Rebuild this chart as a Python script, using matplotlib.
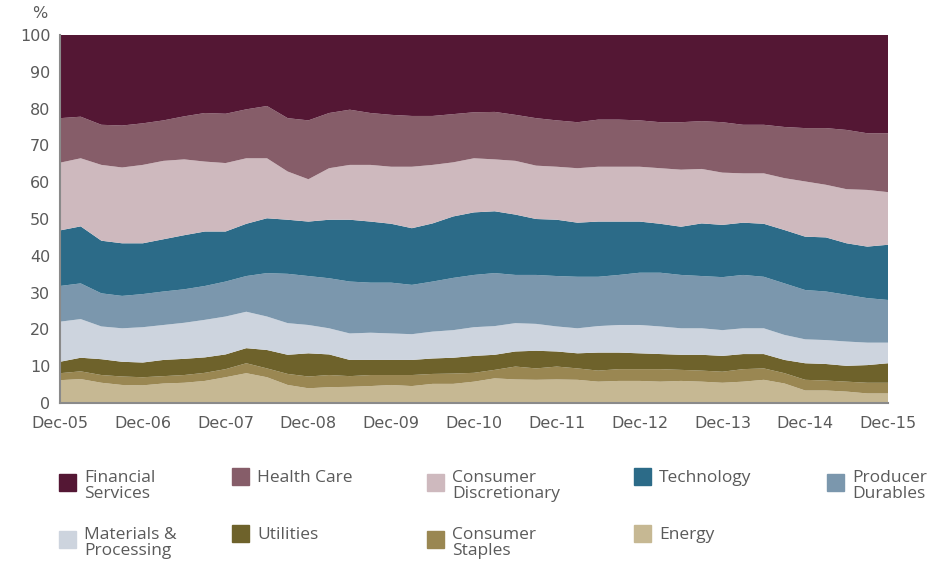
import numpy as np
import matplotlib
matplotlib.use("Agg")
import matplotlib.pyplot as plt
from matplotlib.patches import Rectangle

plt.rcParams['font.family'] = ['Open Sans', 'DejaVu Sans']

# Quarterly sector weights (%), Dec-05 .. Dec-15
months = np.arange(0, 121, 3)
year_labels = ["Dec-05", "Dec-06", "Dec-07", "Dec-08", "Dec-09", "Dec-10",
               "Dec-11", "Dec-12", "Dec-13", "Dec-14", "Dec-15"]

energy = [6.2, 6.5, 5.5, 4.9, 4.8, 5.3, 5.5, 6.0, 7.0, 8.1, 7.0, 4.9, 4.0, 4.3,
          4.4, 4.6, 4.9, 4.6, 5.2, 5.2, 5.8, 6.7, 6.4, 6.3, 6.4, 6.3, 5.8, 6.0,
          6.0, 5.8, 6.0, 5.8, 5.5, 5.8, 6.3, 5.3, 3.4, 3.4, 3.1, 2.6, 2.6]
staples = [1.9, 2.1, 2.1, 2.3, 2.2, 2.0, 2.1, 2.2, 2.2, 2.7, 2.4, 3.0, 3.2, 3.3,
           2.9, 3.0, 2.7, 3.0, 2.7, 2.8, 2.4, 2.3, 3.5, 3.1, 3.5, 3.1, 3.0, 3.2,
           3.2, 3.4, 3.0, 3.0, 3.0, 3.4, 3.1, 2.8, 2.9, 2.7, 2.7, 2.9, 2.9]
utilities = [3.1, 3.7, 4.3, 4.0, 4.0, 4.4, 4.4, 4.2, 4.0, 4.1, 5.0, 5.2, 6.3, 5.6,
             4.4, 4.1, 4.1, 4.1, 4.2, 4.3, 4.6, 4.1, 4.1, 4.8, 4.1, 4.1, 4.9, 4.5,
             4.3, 4.1, 4.1, 4.3, 4.3, 4.1, 3.9, 3.6, 4.5, 4.5, 4.3, 4.8, 5.3]
materials = [10.9, 10.5, 8.9, 9.1, 9.6, 9.5, 9.8, 10.2, 10.3, 9.9, 9.1, 8.6, 7.7, 7.1,
             7.2, 7.4, 7.2, 7.0, 7.3, 7.5, 7.8, 7.8, 7.7, 7.3, 6.8, 6.8, 7.2, 7.5,
             7.7, 7.5, 7.2, 7.2, 7.0, 7.0, 7.0, 6.8, 6.5, 6.5, 6.6, 6.1, 5.6]
producer = [9.7, 9.7, 9.0, 8.8, 9.0, 9.1, 9.1, 9.2, 9.5, 9.7, 11.8, 13.4, 13.3, 13.6,
            14.1, 13.6, 13.8, 13.4, 13.6, 14.2, 14.2, 14.4, 13.1, 13.3, 13.7, 14.0, 13.4, 13.6,
            14.2, 14.6, 14.5, 14.2, 14.4, 14.5, 14.0, 14.0, 13.4, 13.2, 12.7, 12.1, 11.6]
technology = [15.1, 15.5, 14.3, 14.3, 13.8, 14.2, 14.7, 14.8, 13.6, 14.2, 14.9, 14.7, 14.8, 15.9,
              16.8, 16.6, 16.0, 15.4, 15.8, 16.7, 17.0, 16.8, 16.4, 15.2, 15.3, 14.7, 15.0, 14.5,
              13.9, 13.3, 13.1, 14.3, 14.2, 14.2, 14.4, 14.5, 14.5, 14.7, 14.0, 14.0, 15.0]
discretionary = [18.4, 18.5, 20.6, 20.6, 21.3, 21.3, 20.6, 19.0, 18.6, 17.8, 16.3, 13.1, 11.5, 14.0,
                 14.9, 15.4, 15.5, 16.7, 15.9, 14.7, 14.7, 14.1, 14.6, 14.5, 14.4, 14.8, 14.9, 14.9,
                 14.9, 15.1, 15.5, 14.8, 14.2, 13.4, 13.7, 14.1, 15.0, 14.3, 14.7, 15.4, 14.3]
health_care = [12.1, 11.3, 10.9, 11.4, 11.3, 11.0, 11.7, 13.2, 13.4, 13.3, 14.2, 14.5, 16.0, 15.0,
               15.0, 14.1, 14.1, 13.8, 13.3, 13.1, 12.5, 12.9, 12.5, 12.9, 12.6, 12.5, 12.8, 12.8,
               12.6, 12.5, 12.9, 13.0, 13.7, 13.2, 13.2, 13.9, 14.5, 15.4, 16.1, 15.4, 16.0]
financials = [22.6, 22.2, 24.4, 24.6, 24.0, 23.2, 22.1, 21.2, 21.4, 20.2, 19.3, 22.6, 23.2, 21.2,
              20.3, 21.2, 21.7, 22.0, 22.0, 21.5, 21.0, 20.9, 21.7, 22.6, 23.2, 23.7, 23.0, 23.0,
              23.2, 23.7, 23.7, 23.4, 23.7, 24.4, 24.4, 25.0, 25.3, 25.3, 25.8, 26.7, 26.7]

sectors = ["Energy", "Consumer\nStaples", "Utilities", "Materials &\nProcessing",
           "Producer\nDurables", "Technology", "Consumer\nDiscretionary",
           "Health Care", "Financial\nServices"]
colors = ["#c6b893", "#9a8752", "#6e622b", "#cdd4de", "#7b97ad",
          "#2c6b88", "#ceb9be", "#865d69", "#541734"]
grey = "#5a5a5a"

fig = plt.figure(figsize=(9.43, 5.64), dpi=100)
ax = fig.add_axes([60 / 943, 1 - 403 / 564, 828 / 943, 368 / 564])

ax.stackplot(months, energy, staples, utilities, materials, producer,
             technology, discretionary, health_care, financials,
             colors=colors, linewidth=0)

ax.set_xlim(0, 120)
ax.set_ylim(0, 100)
ax.set_yticks(range(0, 101, 10))
ax.set_xticks(range(0, 121, 12))
ax.set_xticklabels(year_labels)
ax.tick_params(length=0, labelsize=11.5, labelcolor=grey)
ax.tick_params(axis="x", pad=9)
ax.tick_params(axis="y", pad=7)
for lbl in ax.get_xticklabels() + ax.get_yticklabels():
    lbl.set_family("DejaVu Sans")
for side in ["top", "right"]:
    ax.spines[side].set_visible(False)
for side in ["left", "bottom"]:
    ax.spines[side].set_color("#8a8a8a")
    ax.spines[side].set_linewidth(1.5)
fig.text(40 / 943, 1 - 14 / 564, "%", fontsize=11.5, color=grey,
         ha="center", va="center", family="DejaVu Sans")

# legend laid out in two rows of five
legend_order = [8, 7, 6, 5, 4, 3, 2, 1, 0]
col_x = [59, 232, 427, 634, 827]
row_y = [470, 527]
for i, idx in enumerate(legend_order):
    r, c = divmod(i, 5)
    x0, y0 = col_x[c], row_y[r]
    two_line = "\n" in sectors[idx]
    sq_top = y0 + (4 if two_line else -2)
    fig.patches.append(Rectangle((x0 / 943, 1 - (sq_top + 17) / 564), 17 / 943, 17 / 564,
                                 transform=fig.transFigure, color=colors[idx]))
    fig.text((x0 + 25) / 943, 1 - y0 / 564, sectors[idx], fontsize=12.5,
             color=grey, ha="left", va="top", linespacing=1.0)

fig.savefig("out.png", dpi=100)
